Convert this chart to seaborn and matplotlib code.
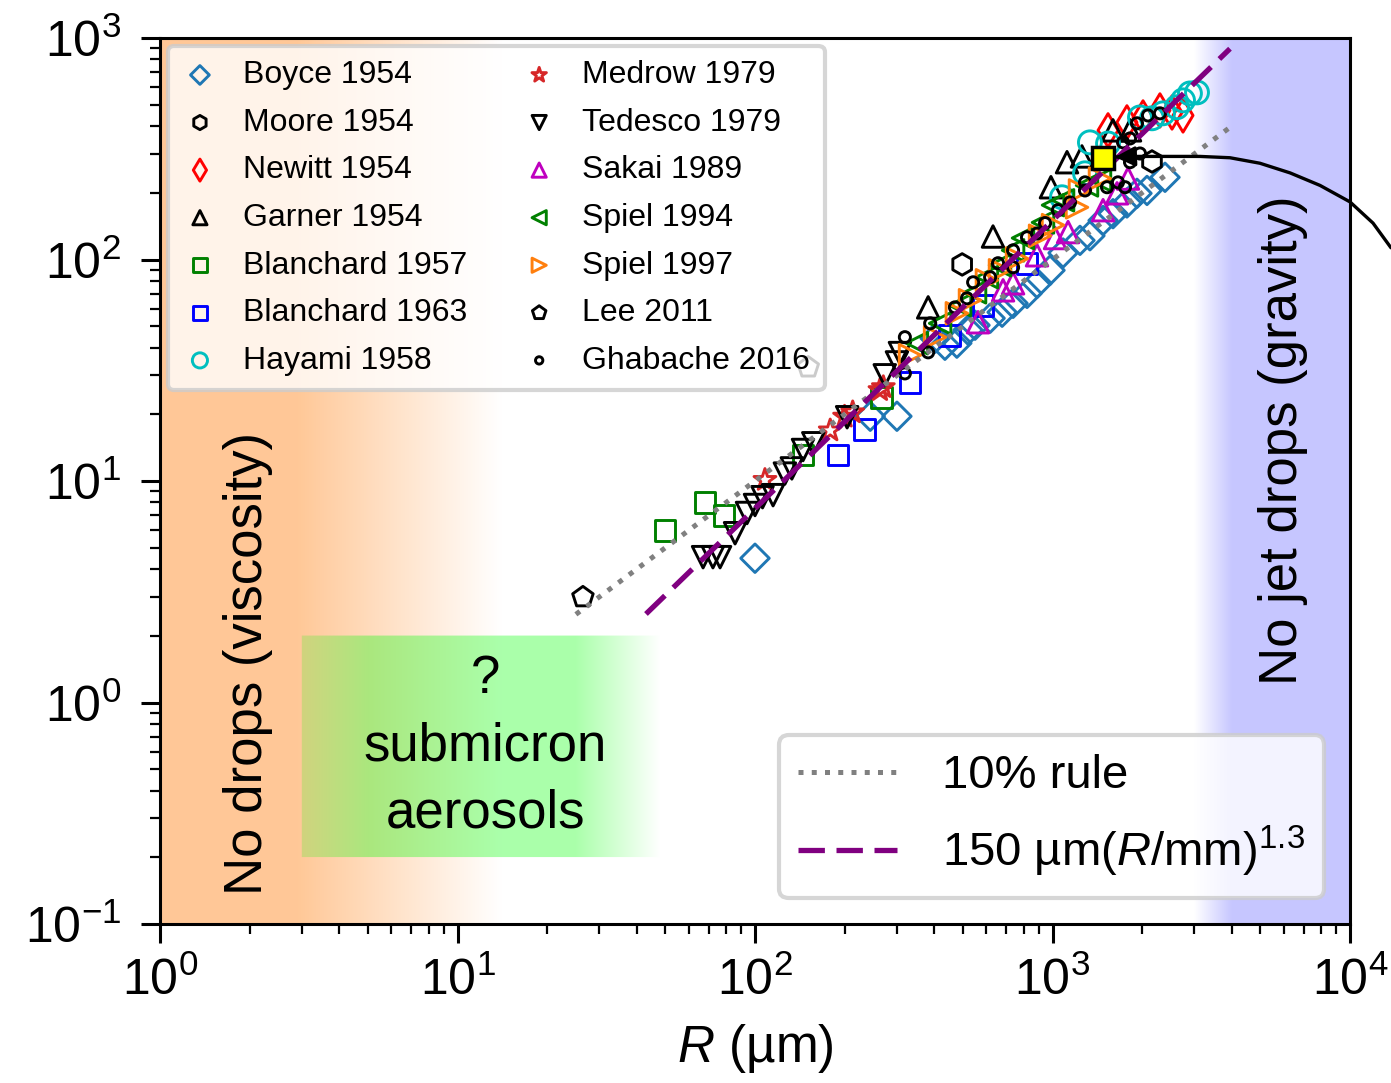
import numpy as np
import matplotlib
matplotlib.use("Agg")
import matplotlib.pyplot as plt
import seaborn as sns


# -----------------------------
# Data: bubble radius R (um) vs jet drop radius (um)
# -----------------------------
boyce_x = [100, 244, 300, 403, 435, 477, 520, 549, 617, 677, 737, 821, 887,
           981, 1085, 1237, 1336, 1479, 1597, 1779, 1923, 2078, 2389]
boyce_y = [4.48, 19.6, 19.6, 44.1, 41.0, 41.9, 48.0, 50.5, 54.3, 57.8, 63.4,
           70.3, 78.1, 89.4, 107, 122, 128, 150, 161, 180, 199, 205, 235]

moore_x = [497, 2160]
moore_y = [95, 277]

newitt_x = [1537, 1779, 2015, 2297, 2522, 2746]
newitt_y = [383, 416, 438, 471, 461, 447]

garner_x = [382, 631, 988, 1119, 1256, 1597, 1822]
garner_y = [60.8, 127, 212, 275, 292, 383, 383]

blan57_x = [49.8, 67.9, 78.7, 145, 267]
blan57_y = [6.0, 8.02, 7.01, 13.1, 23.9]

blan63_x = [190, 234, 332, 452, 584, 821]
blan63_y = [13.1, 17.1, 27.9, 45.5, 62.1, 96.2]

hayami_x = [1076, 1286, 1336, 1537, 1968, 2160, 2352, 2620, 2746, 2897, 3060]
hayami_y = [191, 245, 338, 334, 438, 434, 457, 487, 523, 562, 568]

medrow_x = [108, 179, 200, 213, 263, 270]
medrow_y = [10.1, 16.9, 19.5, 20.4, 25.7, 26.5]

tedesco_x = [66.9, 72.2, 76.3, 85.7, 94.0, 100, 106, 115, 126, 133, 145, 157,
             204, 273, 300, 307]
tedesco_y = [4.53, 4.53, 4.53, 5.81, 7.17, 7.79, 8.45, 8.63, 10.8, 11.4, 13.8,
             14.8, 19.4, 30.0, 34.3, 37.8]

sakai_x = [562, 682, 737, 887, 1020, 1128, 1479, 1648, 1794]
sakai_y = [52.1, 72.6, 78.1, 104.5, 125, 133, 167, 199, 232]

spiel94_x = [350, 419, 489, 549, 602, 666, 737, 796, 929, 1004, 1085, 1306, 1444]
spiel94_y = [41.9, 51.5, 62.1, 71.1, 83.2, 94.2, 110, 125, 147, 176, 185, 216, 228]

spiel97_x = [332, 403, 477, 528, 602, 666, 760, 908, 1004, 1209, 1237, 1444]
spiel97_y = [37.0, 44.6, 57.2, 65.5, 80.6, 89.4, 101, 128, 143, 172, 205, 232]

lee_x = [26.4, 151]
lee_y = [2.99, 32.6]

ghabache_x = [319, 319, 382, 388, 470, 516, 541, 617, 656, 737, 737, 821, 887,
              944, 1043, 1145, 1286, 1286, 1525, 1660, 1753, 1726, 1822, 1923,
              1968, 2094, 2297, 1822]
ghabache_y = [44.6, 30.6, 38.1, 51.5, 60.8, 66.8, 78.9, 83.2, 96.2, 92.2, 110,
              126, 131, 146, 167, 181, 205, 223, 212, 223, 212, 338, 352, 412,
              301, 447, 457, 275]

# highlighted case (yellow square) and the curve that leaves it
present_x = [1480]
present_y = [286]

curve_x = [1622, 1865, 3130, 3950, 4980, 6290, 7930, 10000, 11950, 13730]
curve_y = [290, 292, 292, 288, 272, 246, 216, 182, 146, 113]

# extent of the two scaling laws
rule_x = np.array([25, 3900])
fit_x = np.array([43, 3950])


SERIES = [
    ("Boyce 1954", boyce_x, boyce_y, "D", "C0", 14.5),
    ("Moore 1954", moore_x, moore_y, "h", "k", 15.5),
    ("Newitt 1954", newitt_x, newitt_y, "d", "r", 17),
    ("Garner 1954", garner_x, garner_y, "^", "k", 15.5),
    ("Blanchard 1957", blan57_x, blan57_y, "s", "g", 15),
    ("Blanchard 1963", blan63_x, blan63_y, "s", "b", 15),
    ("Hayami 1958", hayami_x, hayami_y, "o", "c", 16.5),
    ("Medrow 1979", medrow_x, medrow_y, "*", "C3", 16.5),
    ("Tedesco 1979", tedesco_x, tedesco_y, "v", "k", 15.5),
    ("Sakai 1989", sakai_x, sakai_y, "^", "m", 15.5),
    ("Spiel 1994", spiel94_x, spiel94_y, "<", "g", 15.5),
    ("Spiel 1997", spiel97_x, spiel97_y, ">", "C1", 15.5),
    ("Lee 2011", lee_x, lee_y, "p", "k", 15.5),
    ("Ghabache 2016", ghabache_x, ghabache_y, "o", "k", 8),
]


# -----------------------------
# Style
# -----------------------------
sns.set_style("ticks")
plt.rcParams["font.family"] = ["Liberation Sans", "DejaVu Sans"]
plt.rcParams["mathtext.fontset"] = "custom"
plt.rcParams["mathtext.rm"] = "Liberation Sans"
plt.rcParams["mathtext.it"] = "Liberation Sans:italic"
plt.rcParams["mathtext.bf"] = "Liberation Sans:bold"
plt.rcParams["text.color"] = "black"
plt.rcParams["axes.labelcolor"] = "black"
plt.rcParams["axes.edgecolor"] = "black"
plt.rcParams["axes.linewidth"] = 2.2
plt.rcParams["xtick.color"] = "black"
plt.rcParams["ytick.color"] = "black"
plt.rcParams["xtick.major.size"] = 14
plt.rcParams["ytick.major.size"] = 14
plt.rcParams["xtick.minor.size"] = 7.5
plt.rcParams["ytick.minor.size"] = 7.5
plt.rcParams["xtick.major.width"] = 2.2
plt.rcParams["ytick.major.width"] = 2.2
plt.rcParams["xtick.minor.width"] = 1.6
plt.rcParams["ytick.minor.width"] = 1.6


# -----------------------------
# Background shading (orange / green / blue regions)
# -----------------------------
def draw_background(bg):

    nx, ny = 1200, 900
    lx = 4 * (np.arange(nx) + 0.5) / nx          # log10 R, axis spans 1..1e4
    ly = 4 * (np.arange(ny) + 0.5) / ny - 1      # log10 y, axis spans 0.1..1e3
    LX, LY = np.meshgrid(lx, ly)

    img = np.ones((ny, nx, 3))

    orange = np.array([1.0, 127 / 255, 14 / 255])
    a_o = 0.43 * np.clip((np.log10(14) - LX) / (np.log10(14) - np.log10(2.9)), 0, 1)
    img = img * (1 - a_o[..., None]) + orange * a_o[..., None]

    green = np.array([0.0, 1.0, 0.0])
    in_box = (LY >= np.log10(0.2)) & (LY <= np.log10(2)) & (LX >= np.log10(3))
    ramp_in = np.clip(0.55 + 0.45 * (LX - np.log10(3)) / (np.log10(5) - np.log10(3)), 0, 1)
    ramp_out = np.clip((np.log10(48) - LX) / (np.log10(48) - np.log10(25)), 0, 1)
    a_g = np.where(in_box, 0.33 * ramp_in * ramp_out, 0)
    img = img * (1 - a_g[..., None]) + green * a_g[..., None]

    blue = np.array([0.0, 0.0, 1.0])
    a_b = 0.22 * np.clip((LX - np.log10(3000)) / (np.log10(4000) - np.log10(3000)), 0, 1)
    img = img * (1 - a_b[..., None]) + blue * a_b[..., None]

    bg.imshow(img, extent=[0, 1, 0, 1], origin="lower", aspect="auto",
              interpolation="bilinear")
    bg.set_xlim(0, 1)
    bg.set_ylim(0, 1)
    bg.axis("off")


# -----------------------------
# Main plot
# -----------------------------
def main():

    fig = plt.figure(figsize=(13.91, 10.83), dpi=100)
    pos = [160 / 1391, 1 - 924 / 1083, 1190 / 1391, 886 / 1083]

    bg = fig.add_axes(pos, zorder=0)
    draw_background(bg)

    ax = fig.add_axes(pos, zorder=1)
    ax.patch.set_visible(False)
    ax.set_xscale("log")
    ax.set_yscale("log")

    for label, xs, ys, marker, color, ms in SERIES:
        sns.scatterplot(
            x=xs, y=ys, ax=ax,
            marker=marker, s=ms ** 2,
            facecolor="none", edgecolor=color,
            linewidth=2.1, label=label,
            legend=False, zorder=2
        )

    scatter_handles, scatter_labels = ax.get_legend_handles_labels()

    rule_line, = ax.plot(rule_x, 0.1 * rule_x, ls=":", color="gray",
                         lw=3.6, zorder=3, label="10% rule")
    fit_line, = ax.plot(fit_x, 150 * (fit_x / 1000) ** 1.3, color="purple",
                        lw=3.8, dashes=(5, 2.2), zorder=3,
                        label=r"150 µm$(R/\mathrm{mm})^{1.3}$")

    ax.plot(curve_x, curve_y, color="k", lw=2.4, zorder=4, clip_on=False)
    ax.annotate(
        "", xy=(curve_x[0], curve_y[0]), xytext=(curve_x[1], curve_y[1]),
        arrowprops=dict(arrowstyle="-|>", color="k", lw=2.4,
                        mutation_scale=30, shrinkA=0, shrinkB=0),
        zorder=4
    )
    ax.plot(present_x, present_y, marker="s", ms=16, mfc="yellow",
            mec="k", mew=2.5, ls="none", zorder=5)

    ax.set_xlim(1, 1e4)
    ax.set_ylim(0.1, 1e3)
    ax.tick_params(labelsize=36)
    ax.tick_params(axis="x", pad=10)
    ax.tick_params(axis="y", pad=14)
    ax.set_xlabel("$R$ (µm)", fontsize=37, labelpad=12)

    # region labels
    ax.text(1.98, 1.5, "No drops (viscosity)", rotation=90, fontsize=38,
            ha="center", va="center")
    ax.text(5960, 15.3, "No jet drops (gravity)", rotation=90, fontsize=38,
            ha="center", va="center")
    ax.text(12.4, 0.635, "?\nsubmicron\naerosols", fontsize=38,
            ha="center", va="center", linespacing=1.45)

    leg1 = ax.legend(
        scatter_handles, scatter_labels,
        ncol=2, loc="upper left", fontsize=23,
        markerscale=0.66, handlelength=1.1, handletextpad=0.8,
        columnspacing=1.7, labelspacing=0.55,
        borderaxespad=0.25, borderpad=0.45,
        framealpha=0.8, edgecolor="0.8"
    )
    leg1.get_frame().set_linewidth(3)
    ax.add_artist(leg1)

    leg2 = ax.legend(
        [rule_line, fit_line], ["10% rule", r"150 µm$(R/\mathrm{mm})^{1.3}$"],
        loc="lower right", fontsize=34,
        handlelength=2.1, handletextpad=0.95, labelspacing=0.55,
        borderaxespad=0.55, framealpha=0.8, edgecolor="0.8"
    )
    leg2.get_frame().set_linewidth(3)

    fig.savefig("out.png", dpi=100)


if __name__ == "__main__":
    main()
